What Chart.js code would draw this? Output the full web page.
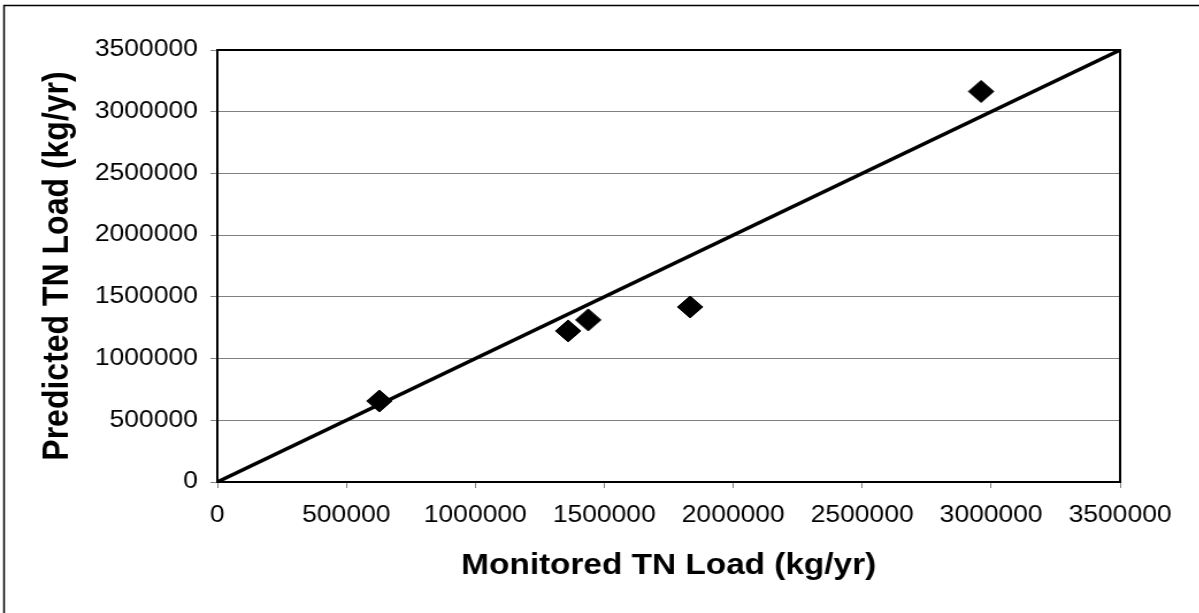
<!DOCTYPE html>
<html>
<head>
<meta charset="utf-8">
<script src="https://cdn.jsdelivr.net/npm/chart.js@4.4.0/dist/chart.umd.min.js"></script>
<style>
  html, body { margin: 0; padding: 0; background: #fff; overflow: hidden; }
  /* the reference picture is stretched sideways, so the chart is too */
  #wrap { width: 1043px; height: 613px; transform: scaleX(1.15); transform-origin: 0 0; }
</style>
</head>
<body>
<div id="wrap"><canvas id="scatterChart" width="1043" height="613"></canvas></div>
<script>
// monitored vs predicted TN load
var monitored = [628000, 1360000, 1438000, 1833000, 2961000];
var predicted = [656000, 1224000, 1313000, 1418000, 3164000];
// the 1:1 line ends
var lineX = [0, 3500000];
var lineY = [0, 3500000];
var axisMin = 0;
var axisMax = 3500000;
var axisStep = 500000;

var xTitle = 'Monitored TN Load (kg/yr)';
var yTitle = 'Predicted TN Load (kg/yr)';

var points = monitored.map(function (m, i) { return { x: m, y: predicted[i] }; });
var oneToOne = lineX.map(function (v, i) { return { x: v, y: lineY[i] }; });

var fontFamily = '"Liberation Sans", Arial, sans-serif';

// frame round the plot area and the outer border of the picture
var framePlugin = {
    id: 'frame',
    beforeDraw: function (chart) {
        var c = chart.ctx;
        c.save();
        c.fillStyle = '#fff';
        c.fillRect(0, 0, chart.width, chart.height);
        c.strokeStyle = '#000';
        c.lineWidth = 1.5;
        c.strokeRect(3.5, 5.5, chart.width + 20, chart.height + 20);
        c.restore();
    },
    beforeDatasetsDraw: function (chart) {
        var a = chart.chartArea;
        var c = chart.ctx;
        c.save();
        c.strokeStyle = '#000';
        c.lineWidth = 2;
        c.strokeRect(a.left, a.top, a.right - a.left, a.bottom - a.top);
        c.restore();
    }
};

var ctx = document.getElementById('scatterChart').getContext('2d');
var chart = new Chart(ctx, {
    type: 'scatter',
    data: {
        datasets: [
            {
                type: 'line',
                label: '1:1',
                data: oneToOne,
                borderColor: '#000',
                borderWidth: 3.5,
                pointRadius: 0,
                fill: false
            },
            {
                label: 'TN load',
                data: points,
                pointStyle: 'rectRot',
                pointRadius: 11,
                pointBackgroundColor: '#000',
                pointBorderColor: '#000',
                pointBorderWidth: 1
            }
        ]
    },
    options: {
        responsive: false,
        animation: false,
        layout: { padding: { top: 50, right: 69, bottom: 0, left: 3 } },
        plugins: {
            legend: { display: false },
            tooltip: { enabled: false }
        },
        scales: {
            x: {
                type: 'linear',
                min: axisMin,
                max: axisMax,
                afterFit: function (scale) { scale.height = 131; },
                ticks: {
                    stepSize: axisStep,
                    color: '#000',
                    padding: 14,
                    maxRotation: 0,
                    font: { family: fontFamily, size: 23 },
                    callback: function (v) { return String(v); }
                },
                grid: {
                    drawOnChartArea: false,
                    tickLength: 6,
                    tickColor: '#808080'
                },
                border: { color: '#000', width: 2 },
                title: {
                    display: true,
                    text: xTitle,
                    color: '#000',
                    padding: { top: 0, bottom: 30 },
                    font: { family: fontFamily, size: 29, weight: 'bold' }
                }
            },
            y: {
                type: 'linear',
                min: axisMin,
                max: axisMax,
                afterFit: function (scale) { scale.width = 186; },
                ticks: {
                    stepSize: axisStep,
                    color: '#000',
                    padding: 11,
                    font: { family: fontFamily, size: 23 },
                    callback: function (v) { return String(v); }
                },
                grid: {
                    color: '#808080',
                    lineWidth: 1,
                    tickLength: 6,
                    tickColor: '#808080'
                },
                border: { color: '#000', width: 2 },
                title: {
                    display: true,
                    text: yTitle,
                    color: '#000',
                    padding: { top: 28, bottom: 0 },
                    font: { family: fontFamily, size: 32, weight: 'bold' }
                }
            }
        }
    },
    plugins: [framePlugin]
});
</script>
</body>
</html>
